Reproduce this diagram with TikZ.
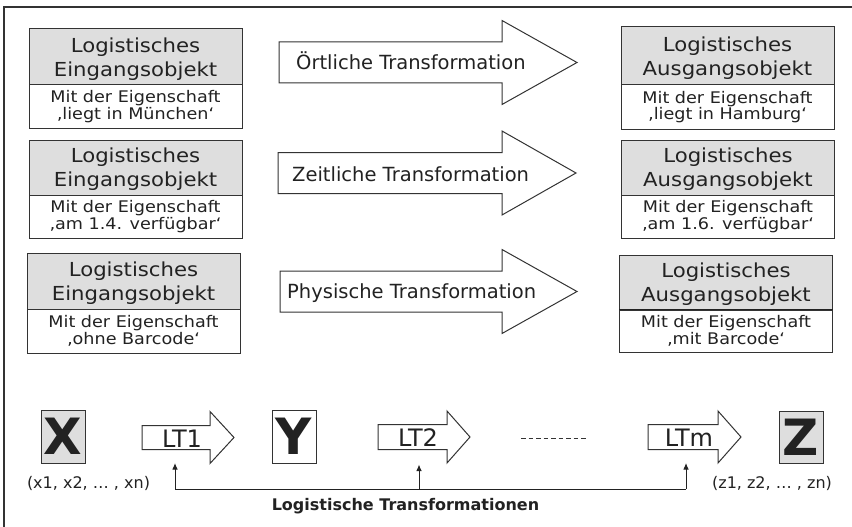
\documentclass[tikz,border=0pt]{standalone}
\usepackage{fontspec}
\setmainfont{DejaVu Sans}
\newfontfamily\boxfont[FakeStretch=1.1]{DejaVu Sans}
\usetikzlibrary{calc,arrows.meta}
\definecolor{ink}{HTML}{222222}
\definecolor{linec}{HTML}{333333}
\definecolor{boxgray}{HTML}{DEDEDE}
\tikzset{
  hdr/.style={draw=linec, line width=1pt, fill=boxgray, minimum width=213pt,
    inner sep=0pt, align=center, text depth=0pt, text=ink,
    font=\boxfont\fontsize{19.3}{24}\selectfont},
  prop/.style={draw=linec, line width=1pt, fill=white, minimum width=213pt,
    inner sep=0pt, align=center, text=ink,
    font=\boxfont\fontsize{16}{13.2}\selectfont},
  bigarrow/.style={draw=linec, line width=1pt, fill=white, line join=miter},
  atext/.style={inner sep=0pt, text=ink, font=\fontsize{19.5}{24}\selectfont},
  lttext/.style={inner sep=0pt, text=ink, font=\fontsize{24}{28}\selectfont},
  letterbox/.style={draw=linec, line width=1pt, minimum width=44pt,
    minimum height=53pt, inner sep=0pt, text=ink,
    font=\fontsize{50}{50}\selectfont\bfseries},
  lbl/.style={inner sep=0pt, text=ink, font=\fontsize{16}{19}\selectfont},
  uparrow/.style={draw=ink, line width=1pt, -{Latex[length=6.5pt,width=5.5pt]}},
}
\begin{document}
\begin{tikzpicture}[x=1pt,y=-1pt]
\useasboundingbox (0,0) rectangle (852,527);
\fill[white] (0,0) rectangle (852,527);
% frame
\draw[line width=1.5pt, linec] (4,527) -- (4,7) -- (852,7);

% ---------- left boxes ----------
\node[hdr, minimum height=56pt] (in1) at (135.5,57) {Logistisches\\Eingangsobjekt};
\node[prop, minimum height=43pt] (in1p) at (135.5,106.5) {Mit der Eigenschaft\\‚liegt in München‘};
\node[hdr, minimum height=55pt] (in2) at (135.5,167.5) {Logistisches\\Eingangsobjekt};
\node[prop, minimum height=43pt] (in2p) at (135.5,216.5) {Mit der Eigenschaft\\‚am 1.4. verfügbar‘};
\node[hdr, minimum height=56pt] (in3) at (133.5,281) {Logistisches\\Eingangsobjekt};
\node[prop, minimum height=44pt] (in3p) at (133.5,331) {Mit der Eigenschaft\\‚ohne Barcode‘};

% ---------- right boxes ----------
\node[hdr, minimum height=58pt] (out1) at (727.5,56) {Logistisches\\Ausgangsobjekt};
\node[prop, minimum height=44pt] (out1p) at (727.5,107) {Mit der Eigenschaft\\‚liegt in Hamburg‘};
\node[hdr, minimum height=55pt] (out2) at (728,167.5) {Logistisches\\Ausgangsobjekt};
\node[prop, minimum height=43pt] (out2p) at (728,216.5) {Mit der Eigenschaft\\‚am 1.6. verfügbar‘};
\node[hdr, minimum height=55pt] (out3) at (726,282.5) {Logistisches\\Ausgangsobjekt};
\node[prop, minimum height=42pt] (out3p) at (726,331) {Mit der Eigenschaft\\‚mit Barcode‘};
\draw[line width=1.6pt, ink] (out3p.north west) -- (out3p.north east);

% ---------- big arrows ----------
\draw[bigarrow] (279,42) -- (502,42) -- (502,20.5) -- (577,62.5) -- (502,104.5) -- (502,83) -- (279,83) -- cycle;
\draw[bigarrow] (278,152.5) -- (502,152.5) -- (502,131) -- (576,173) -- (502,215) -- (502,193.5) -- (278,193.5) -- cycle;
\draw[bigarrow] (280,271) -- (502,271) -- (502,249.5) -- (577,291.5) -- (502,333.5) -- (502,312) -- (280,312) -- cycle;
\node[atext, anchor=base west] (t1) at (296,70) {Örtliche Transformation};
\node[atext, anchor=base west] (t2) at (292,181.7) {Zeitliche Transformation};
\node[atext, anchor=base west] (t3) at (287,298.3) {Physische Transformation};

% ---------- bottom row ----------
\node[letterbox, fill=boxgray] (X) at (63,436.5) {X};
\node[letterbox, fill=white] (Y) at (294,436.5) {Y};
\node[letterbox, fill=boxgray, minimum height=52pt] (Z) at (801,437) {Z};

\draw[bigarrow] (142,425.5) -- (210,425.5) -- (210,411.5) -- (234,437.5) -- (210,463.5) -- (210,449.5) -- (142,449.5) -- cycle;
\draw[bigarrow] (378,424.5) -- (447,424.5) -- (447,411) -- (470,437) -- (447,463) -- (447,449.5) -- (378,449.5) -- cycle;
\draw[bigarrow] (648,424.5) -- (718,424.5) -- (718,411) -- (741,437) -- (718,463) -- (718,449.5) -- (648,449.5) -- cycle;
\node[lttext] (lt1) at (182,438.5) {LT1};
\node[lttext] (lt2) at (418,438) {LT2};
\node[lttext] (ltm) at (689,438) {LTm};

\coordinate (d1) at (521,438);
\coordinate (d2) at (588,438);
\draw[linec, line width=1pt, dash pattern=on 4.5pt off 3pt] (d1) -- (d2);

\node[lbl] (xl) at (88.5,483) {(x1, x2, … , xn)};
\node[lbl] (zl) at (772,483) {(z1, z2, … , zn)};

\coordinate (b1) at (175,489);
\coordinate (b2) at (419,489);
\coordinate (b3) at (686,489);
\coordinate (u1) at (175,463);
\coordinate (u2) at (419,464.5);
\coordinate (u3) at (686,463);
\draw[draw=ink, line width=1pt] (b1) -- (b3);
\draw[uparrow] (b1) -- (u1);
\draw[uparrow] (b2) -- (u2);
\draw[uparrow] (b3) -- (u3);
\node[lbl, font=\fontsize{16}{19}\selectfont\bfseries] (lt) at (405.5,506) {Logistische Transformationen};
\end{tikzpicture}
\end{document}
